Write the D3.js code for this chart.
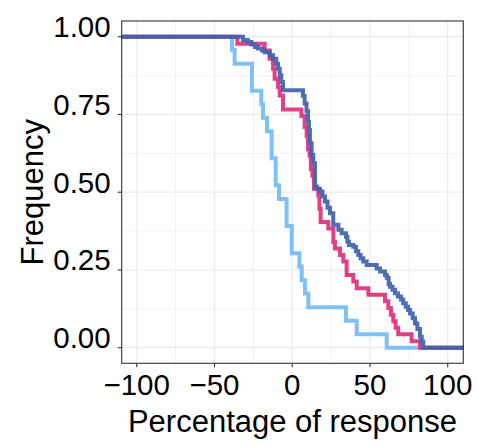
<!DOCTYPE html>
<html>
<head>
<meta charset="utf-8">
<script src="https://cdn.jsdelivr.net/npm/d3@7"></script>
<style>
  html, body { margin: 0; padding: 0; background: #fff; }
  svg { display: block; }
  text { font-family: "Liberation Sans", Arial, Helvetica, sans-serif; }
</style>
</head>
<body>
<svg id="chart" width="478" height="448"></svg>
<script>
// ---- data (step breakpoints: response %, frequency remaining after step) ----
const xTicks = [-100, -50, 0, 50, 100];
const yTicks = [0, 0.25, 0.5, 0.75, 1];
const xMinor = [-75, -25, 25, 75];
const yMinor = [0.125, 0.375, 0.625, 0.875];

const lightX = [-38.7, -37.0, -25.9, -19.9, -18.8, -16.2, -13.2, -10.6, -8.5, -3.6, -0.3, 4.6, 6.1, 8.2, 10.4, 34.6, 41.5, 60.8];
const lightF = [0.957, 0.913, 0.826, 0.783, 0.739, 0.696, 0.609, 0.522, 0.478, 0.391, 0.304, 0.261, 0.217, 0.174, 0.130, 0.087, 0.043, 0.000];

const pinkX = [-35.3, -17.7, -14.5, -12.3, -11.3, -9.1, -8.0, -5.9, 5.9, 8.0, 9.3, 10.2, 11.2, 12.0, 13.0, 14.0, 16.8, 17.5, 18.3, 23.2, 26.5, 27.5, 30.7, 32.9, 35.0, 39.3, 41.5, 49.0, 59.7, 61.8, 63.5, 65.0, 66.5, 68.2, 76.8, 82.2];
const pinkF = [0.977, 0.956, 0.929, 0.897, 0.865, 0.838, 0.811, 0.766, 0.745, 0.710, 0.681, 0.638, 0.617, 0.574, 0.553, 0.511, 0.489, 0.447, 0.404, 0.383, 0.340, 0.319, 0.298, 0.277, 0.234, 0.213, 0.191, 0.170, 0.149, 0.128, 0.106, 0.085, 0.064, 0.043, 0.021, 0.000];

const darkX = [-31.6, -28.5, -26.3, -24.0, -22.0, -19.5, -17.7, -14.5, -12.3, -10.2, -9.1, -8.0, -7.0, -5.9, 6.9, 8.0, 9.2, 10.2, 10.8, 11.4, 12.5, 13.6, 14.7, 16.0, 17.9, 19.5, 21.1, 22.7, 24.3, 26.4, 29.7, 31.8, 34.6, 35.5, 36.5, 39.3, 41.0, 42.5, 44.0, 45.7, 47.9, 54.3, 56.5, 59.7, 60.8, 62.0, 62.9, 64.5, 66.1, 68.0, 70.0, 71.4, 73.0, 74.5, 75.8, 77.5, 79.0, 80.5, 82.2, 83.3, 84.3];
const darkF = [0.989, 0.983, 0.975, 0.967, 0.962, 0.956, 0.950, 0.940, 0.929, 0.913, 0.897, 0.876, 0.854, 0.828, 0.810, 0.785, 0.760, 0.726, 0.700, 0.657, 0.620, 0.593, 0.518, 0.510, 0.502, 0.486, 0.470, 0.450, 0.432, 0.395, 0.379, 0.368, 0.357, 0.341, 0.330, 0.325, 0.310, 0.298, 0.288, 0.277, 0.266, 0.255, 0.245, 0.234, 0.225, 0.205, 0.196, 0.186, 0.175, 0.165, 0.155, 0.143, 0.132, 0.121, 0.110, 0.095, 0.078, 0.060, 0.035, 0.020, 0.000];

const series = [
  { name: "light", xs: lightX, fs: lightF, color: "#74BCF7" },
  { name: "pink",  xs: pinkX,  fs: pinkF,  color: "#E0327B" },
  { name: "dark",  xs: darkX,  fs: darkF,  color: "#4262AC" }
];

// ---- layout ----
const svg = d3.select("#chart");
const panel = { left: 121.7, right: 463.3, top: 21, bottom: 363.3 };

const x = d3.scaleLinear().domain([-100, 100]).range([136.7, 447.7]);
const y = d3.scaleLinear().domain([0, 1]).range([347.7, 36.7]);

svg.append("rect").attr("x", 0).attr("y", 0).attr("width", 478).attr("height", 448).attr("fill", "#fff");

// grid
const g = svg.append("g");
g.selectAll(".vminor").data(xMinor).join("line")
  .attr("x1", d => x(d)).attr("x2", d => x(d))
  .attr("y1", panel.top).attr("y2", panel.bottom)
  .attr("stroke", "#EBEBEB").attr("stroke-width", 0.7);
g.selectAll(".hminor").data(yMinor).join("line")
  .attr("y1", d => y(d)).attr("y2", d => y(d))
  .attr("x1", panel.left).attr("x2", panel.right)
  .attr("stroke", "#EBEBEB").attr("stroke-width", 0.7);
g.selectAll(".vmajor").data(xTicks).join("line")
  .attr("x1", d => x(d)).attr("x2", d => x(d))
  .attr("y1", panel.top).attr("y2", panel.bottom)
  .attr("stroke", "#EBEBEB").attr("stroke-width", 1.2);
g.selectAll(".hmajor").data(yTicks).join("line")
  .attr("y1", d => y(d)).attr("y2", d => y(d))
  .attr("x1", panel.left).attr("x2", panel.right)
  .attr("stroke", "#EBEBEB").attr("stroke-width", 1.2);

// clip
svg.append("clipPath").attr("id", "clip").append("rect")
  .attr("x", panel.left).attr("y", panel.top)
  .attr("width", panel.right - panel.left).attr("height", panel.bottom - panel.top);

const xLo = x.invert(panel.left) - 5, xHi = x.invert(panel.right) + 5;
const line = d3.line().x(d => x(d[0])).y(d => y(d[1])).curve(d3.curveStepAfter);

const lines = svg.append("g").attr("clip-path", "url(#clip)");
series.forEach(s => {
  const pts = [[xLo, 1]].concat(s.xs.map((v, i) => [v, s.fs[i]])).concat([[xHi, 0]]);
  lines.append("path").datum(pts)
    .attr("d", line)
    .attr("fill", "none")
    .attr("stroke", s.color)
    .attr("stroke-width", 4)
    .attr("stroke-opacity", 0.93)
    .attr("stroke-linejoin", "miter");
});

// panel border
svg.append("rect")
  .attr("x", panel.left).attr("y", panel.top)
  .attr("width", panel.right - panel.left).attr("height", panel.bottom - panel.top)
  .attr("fill", "none").attr("stroke", "#333").attr("stroke-width", 1.1);

// ticks
svg.selectAll(".xt").data(xTicks).join("line")
  .attr("x1", d => x(d)).attr("x2", d => x(d))
  .attr("y1", panel.bottom).attr("y2", panel.bottom + 4)
  .attr("stroke", "#333").attr("stroke-width", 1.1);
svg.selectAll(".yt").data(yTicks).join("line")
  .attr("y1", d => y(d)).attr("y2", d => y(d))
  .attr("x1", panel.left - 4).attr("x2", panel.left)
  .attr("stroke", "#333").attr("stroke-width", 1.1);

const fx = d3.format("d"), fy = d3.format(".2f");
svg.selectAll(".xl").data(xTicks).join("text")
  .attr("x", d => x(d)).attr("y", 395)
  .attr("text-anchor", "middle").attr("font-size", 29.5).attr("fill", "#000")
  .text(d => fx(d));
svg.selectAll(".yl").data(yTicks).join("text")
  .attr("x", panel.left - 11).attr("y", d => y(d) + 0.5)
  .attr("text-anchor", "end").attr("font-size", 29.5).attr("fill", "#000")
  .text(d => fy(d));

// axis titles
svg.append("text")
  .attr("x", (panel.left + panel.right) / 2).attr("y", 432)
  .attr("text-anchor", "middle").attr("font-size", 31).attr("fill", "#000")
  .text("Percentage of response");
svg.append("text")
  .attr("transform", `translate(43, ${(panel.top + panel.bottom) / 2}) rotate(-90)`)
  .attr("text-anchor", "middle").attr("font-size", 31).attr("fill", "#000")
  .text("Frequency");
</script>
</body>
</html>
